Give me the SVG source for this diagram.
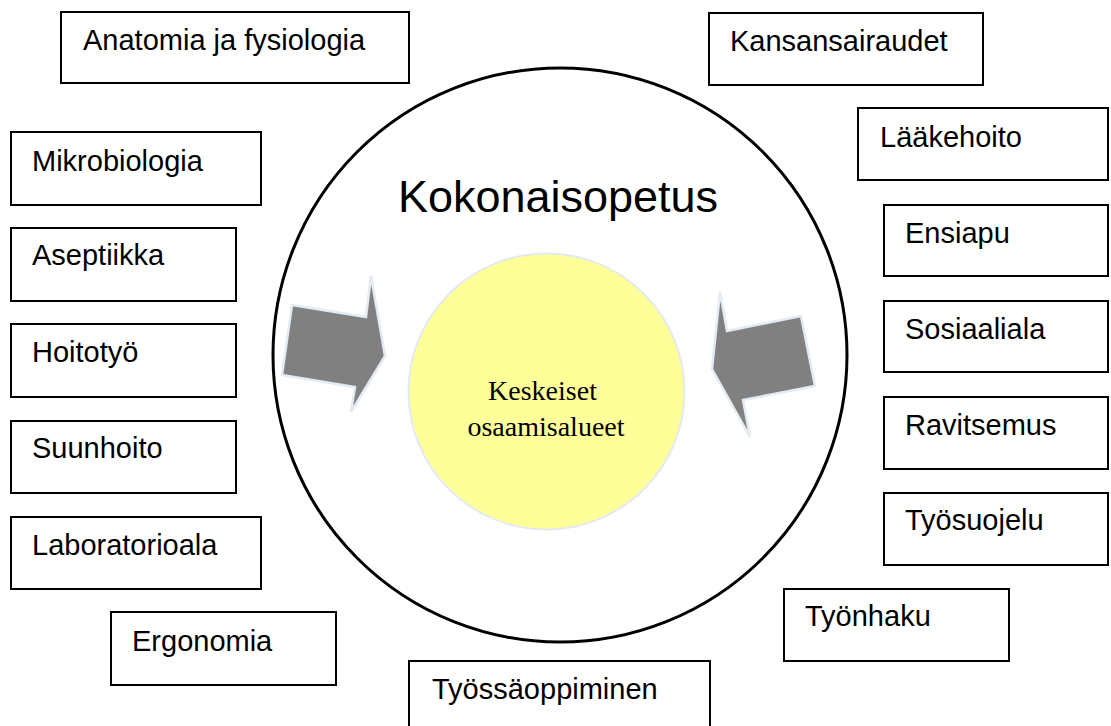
<svg xmlns="http://www.w3.org/2000/svg" width="1111" height="726" viewBox="0 0 1111 726">
  <style>
    .box rect { fill: #ffffff; stroke: #000000; stroke-width: 2; }
    .box text { font-family: "Liberation Sans", Arial, sans-serif; font-size: 29px; fill: #000000; }
    .arrow { fill: #808080; stroke: #e3eaf1; stroke-width: 2.5; stroke-linejoin: miter; }
  </style>
  <rect x="0" y="0" width="1111" height="726" fill="#ffffff"/>

  <!-- outer circle with its title -->
  <g id="kokonaisopetus">
    <circle cx="560" cy="355" r="287" fill="none" stroke="#000000" stroke-width="3"/>
    <text x="558" y="212" text-anchor="middle" font-family="Liberation Sans, Arial, sans-serif" font-size="45">Kokonaisopetus</text>
  </g>

  <!-- central core -->
  <g id="keskeiset">
    <circle cx="546.5" cy="391.5" r="138" fill="#ffff99" stroke="#e3eaf1" stroke-width="2"/>
    <text text-anchor="middle" font-family="Liberation Serif, 'Times New Roman', serif" font-size="28" fill="#000000">
      <tspan x="546" y="400">Keskeiset</tspan>
      <tspan x="546" y="436">osaamisalueet</tspan>
    </text>
  </g>

  <!-- inward arrows -->
  <g id="connectors">
    <polygon class="arrow" points="292,305 366,317 371,276 385,356 351,412 355,387 282,375"/>
    <polygon class="arrow" points="720,292 727,331 801,316 815,386 743,400 750,437 712,369"/>
  </g>

  <!-- left column -->
  <g id="anatomia" class="box"><rect x="61" y="12" width="348" height="71"/><text x="83" y="50">Anatomia ja fysiologia</text></g>
  <g id="mikrobiologia" class="box"><rect x="11" y="132" width="250" height="73"/><text x="32" y="171">Mikrobiologia</text></g>
  <g id="aseptiikka" class="box"><rect x="11" y="228" width="225" height="73"/><text x="32" y="265">Aseptiikka</text></g>
  <g id="hoitotyo" class="box"><rect x="11" y="324" width="225" height="73"/><text x="32" y="362">Hoitotyö</text></g>
  <g id="suunhoito" class="box"><rect x="11" y="421" width="225" height="72"/><text x="32" y="458">Suunhoito</text></g>
  <g id="laboratorioala" class="box"><rect x="11" y="517" width="250" height="72"/><text x="32" y="555">Laboratorioala</text></g>
  <g id="ergonomia" class="box"><rect x="111" y="612" width="225" height="73"/><text x="132" y="651">Ergonomia</text></g>
  <g id="tyossaoppiminen" class="box"><rect x="409" y="661" width="301" height="72"/><text x="432" y="699">Työssäoppiminen</text></g>

  <!-- right column -->
  <g id="kansansairaudet" class="box"><rect x="709" y="13" width="274" height="72"/><text x="730" y="51">Kansansairaudet</text></g>
  <g id="laakehoito" class="box"><rect x="858" y="108" width="250" height="72"/><text x="880" y="147">Lääkehoito</text></g>
  <g id="ensiapu" class="box"><rect x="884" y="205" width="224" height="71"/><text x="905" y="243">Ensiapu</text></g>
  <g id="sosiaaliala" class="box"><rect x="884" y="301" width="224" height="71"/><text x="905" y="339">Sosiaaliala</text></g>
  <g id="ravitsemus" class="box"><rect x="884" y="397" width="224" height="72"/><text x="905" y="435">Ravitsemus</text></g>
  <g id="tyosuojelu" class="box"><rect x="884" y="493" width="224" height="72"/><text x="905" y="530">Työsuojelu</text></g>
  <g id="tyonhaku" class="box"><rect x="784" y="589" width="225" height="72"/><text x="805" y="626">Työnhaku</text></g>
</svg>
